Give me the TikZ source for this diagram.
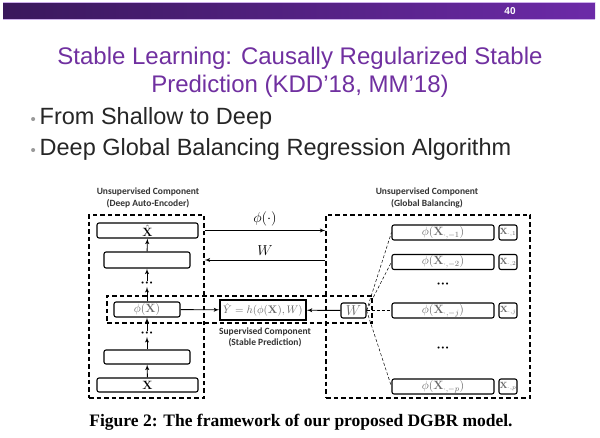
\documentclass[tikz,border=0pt]{standalone}
\usepackage{amsmath}
\usepackage[no-math]{fontspec}
\setmainfont{Liberation Sans}
\newfontfamily\capfont{Liberation Serif}
\newfontfamily\lblfont{Carlito}
\usepackage{tikz}
\usetikzlibrary{arrows}
\definecolor{titlepurple}{RGB}{112,48,160}
\definecolor{bodygray}{RGB}{38,38,38}
\definecolor{mathgray}{RGB}{105,105,105}
\definecolor{bardark}{RGB}{58,24,92}
\definecolor{barlight}{RGB}{108,42,168}
\definecolor{barline}{RGB}{205,175,235}
\newcommand{\blt}{{\color{gray!80}\fontsize{15}{15}\selectfont\textbullet}\,}
\newcommand{\vdotsrow}{\textbullet\hspace{1.6pt}\textbullet\hspace{1.6pt}\textbullet}

\begin{document}
\begin{tikzpicture}[x=1pt,y=-1pt]

	\tikzset{box/.style = {draw,rounded corners=2pt,line width=1.1pt,inner sep=0pt,text=mathgray,font=\fontsize{11.5}{13}\selectfont}}
	\tikzset{group/.style = {draw,dash pattern=on 4.5pt off 3pt,line width=1.3pt,inner sep=0pt}}
	\tikzset{edge/.style = {->,> = latex',line width=0.9pt}}
	\tikzset{fan/.style = {densely dashed,line width=0.5pt}}
	\tikzset{lbl/.style = {font=\lblfont\bfseries\fontsize{9.5}{11.5}\selectfont,text=black!80,align=center}}
	\tikzset{dots/.style = {inner sep=1pt,font=\fontsize{7.5}{8}\selectfont}}
	\useasboundingbox (0,0) rectangle (600,438);
	\fill[white] (0,0) rectangle (600,438);
	% header
	\shade[left color=bardark,right color=barlight] (3,3) rectangle (595,19);
	\draw[barline,line width=0.8pt] (3,2.5) -- (595,2.5);
	\draw[barline,line width=0.8pt] (3,19.5) -- (595,19.5);
	\node[text=white,font=\bfseries\fontsize{10}{12}\selectfont] (page) at (510,11) {40};
	\node[text=titlepurple,align=center,font=\fontsize{24}{28}\selectfont] (title) at (300,72)
		{Stable Learning: Causally Regularized Stable\\Prediction (KDD’18, MM’18)};
	\node[anchor=west,text=bodygray,font=\fontsize{23.5}{26}\selectfont] (b1) at (27,118)
		{\blt From Shallow to Deep};
	\node[anchor=west,text=bodygray,font=\fontsize{23.5}{26}\selectfont] (b2) at (27,149)
		{\blt Deep Global Balancing Regression Algorithm};

	% groups
	\node[group,minimum width=115,minimum height=183] (enc) at (146.5,306.5) {};
	\node[group,minimum width=204,minimum height=183] (bal) at (428,306.5) {};
	\node[group,minimum width=265,minimum height=27] (sup) at (239.5,309.5) {};
	\node[lbl] (enclbl) at (148,198) {Unsupervised Component\\(Deep Auto-Encoder)};
	\node[lbl] (ballbl) at (427,198) {Unsupervised Component\\(Global Balancing)};
	\node[lbl] (suplbl) at (265,337.5) {Supervised Component\\(Stable Prediction)};

	% encoder
	\node[box,minimum width=101,minimum height=15,text=black,font=\fontsize{13}{13}\selectfont] (xhat) at (147.5,230.5) {$\hat{\mathbf{X}}$};
	\node[box,minimum width=86,minimum height=16] (h1) at (147,260) {};
	\node[dots] (d1) at (147,284) {\vdotsrow};
	\node[box,minimum width=66,minimum height=15] (phix) at (147,309.5) {$\phi(\mathbf{X})$};
	\node[dots] (d2) at (147,334) {\vdotsrow};
	\node[box,minimum width=86,minimum height=14] (h2) at (147,357) {};
	\node[box,minimum width=101,minimum height=14,text=black,font=\fontsize{13}{13}\selectfont] (x) at (147.5,385) {$\mathbf{X}$};

	% prediction
	\node[box,line width=1.5pt,rounded corners=0pt,minimum width=86,minimum height=20,font=\fontsize{10.5}{12}\selectfont] (yhat) at (263,310)
		{$\hat{Y}=h(\phi(\mathbf{X}),W)$};
	\node[box,minimum width=25,minimum height=15,font=\fontsize{14}{14}\selectfont] (w) at (353.5,310.5) {$W$};

	% balancing
	\node[box,minimum width=102,minimum height=15] (r1) at (443,232.5) {$\phi(\mathbf{X}_{\cdot,-1})$};
	\node[box,minimum width=18,minimum height=15,font=\fontsize{9}{10}\selectfont] (s1) at (508,232.5) {$\mathbf{X}_{\cdot,1}$};
	\node[box,minimum width=102,minimum height=15] (r2) at (443,262) {$\phi(\mathbf{X}_{\cdot,-2})$};
	\node[box,minimum width=18,minimum height=15,font=\fontsize{9}{10}\selectfont] (s2) at (508,262) {$\mathbf{X}_{\cdot,2}$};
	\node[dots] (d3) at (443,285) {\vdotsrow};
	\node[box,minimum width=102,minimum height=15] (rj) at (443,310.5) {$\phi(\mathbf{X}_{\cdot,-j})$};
	\node[box,minimum width=18,minimum height=15,font=\fontsize{9}{10}\selectfont] (sj) at (508,310.5) {$\mathbf{X}_{\cdot,j}$};
	\node[dots] (d4) at (443,349) {\vdotsrow};
	\node[box,minimum width=102,minimum height=15] (rp) at (443,386.5) {$\phi(\mathbf{X}_{\cdot,-p})$};
	\node[box,minimum width=18,minimum height=15,font=\fontsize{9}{10}\selectfont] (sp) at (508,386.5) {$\mathbf{X}_{\cdot,p}$};

	%edges
	\draw[edge] (x) to (h2);
	\draw[edge] (h2) to (d2);
	\draw[edge] (d2) to (phix);
	\draw[edge] (phix) to (d1);
	\draw[edge] (d1) to (h1);
	\draw[edge] (h1) to (xhat);
	\draw[edge] (phix) to (yhat);
	\draw[edge] (w) to (yhat);
	\draw[edge] (xhat -| enc.east) to node[above=1pt,font=\fontsize{14}{14}\selectfont] (philbl) {$\phi(\cdot)$} (xhat -| bal.west);
	\draw[edge] (h1 -| bal.west) to node[above=1pt,font=\fontsize{14}{14}\selectfont] (wlbl) {$W$} (h1 -| enc.east);
	\foreach \r in {r1,r2,rj,rp}
		\draw[fan] (w.east) to (\r.west);

	\node[font=\capfont\bfseries\fontsize{17.5}{19}\selectfont] (caption) at (301,422)
		{Figure 2: The framework of our proposed DGBR model.};
\end{tikzpicture}
\end{document}
